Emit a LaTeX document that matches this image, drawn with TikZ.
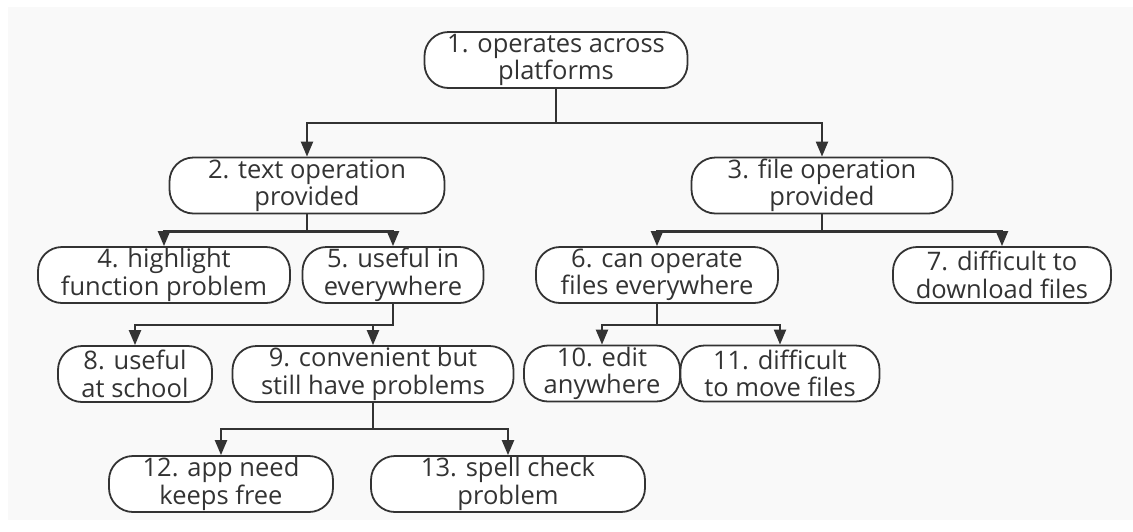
\documentclass[tikz,border=0pt]{standalone}
\usepackage{fontspec}
\setmainfont{Open Sans}
\usetikzlibrary{arrows.meta,positioning}
\definecolor{tline}{RGB}{51,51,51}
\definecolor{tback}{RGB}{249,249,249}
\tikzset{
  box/.style={rectangle,rounded corners=24pt,draw=tline,line width=1.8pt,fill=white,
              align=center,font=\fontsize{25.5}{27.5}\selectfont,text=tline,
              minimum height=56pt,inner sep=1pt},
  link/.style={-{Triangle[length=15pt,width=12pt]},line width=2.2pt,tline},
}

\begin{document}
\begin{tikzpicture}[x=1pt,y=-1pt]
  \useasboundingbox (0,0) rectangle (1133,531);
  \fill[tback] (8,7) rectangle (1133,520);
  % top
  \node[box,minimum width=263pt] (across) at (556,60) {1. operates across\\platforms};
  % second level
  \node[box,minimum width=275pt] (text) at (307,185.5) {2. text operation\\provided};
  \node[box,minimum width=261pt] (file) at (822,185.5) {3. file operation\\provided};
  \draw[link] (across.south) -- ++(0,34) -| (text.north);
  \draw[link] (across.south) -- ++(0,34) -| (file.north);
  % under text operation
  \node[box,minimum width=252pt] (highlight) at (164,275) {4. highlight\\function problem};
  \node[box,minimum width=181pt] (useful) at (393,275) {5. useful in\\everywhere};
  \draw[link] (text.south) -- ++(0,17) -| (highlight.north);
  \draw[link] (text.south) -- ++(0,17) -| (useful.north);
  % under file operation
  \node[box,minimum width=242pt] (operate) at (657,275) {6. can operate\\files everywhere};
  \node[box,minimum width=218pt] (download) at (1002,275) {7. difficult to\\download files};
  \draw[link] (file.south) -- ++(0,17) -| (operate.north);
  \draw[link] (file.south) -- ++(0,17) -| (download.north);
  % under useful in everywhere
  \node[box,minimum width=154pt] (school) at (135,374) {8. useful\\at school};
  \node[box,minimum width=281pt] (convenient) at (373,374) {9. convenient but\\still have problems};
  \draw[link] (useful.south) -- ++(0,21) -| (school.north);
  \draw[link] (useful.south) -- ++(0,21) -| (convenient.north);
  % under can operate files
  \node[box,minimum width=156pt] (edit) at (602,373.5) {10. edit\\anywhere};
  \node[box,minimum width=199pt] (move) at (780,373.5) {11. difficult\\to move files};
  \draw[link] (operate.south) -- ++(0,21) -| (edit.north);
  \draw[link] (operate.south) -- ++(0,21) -| (move.north);
  % under convenient
  \node[box,minimum width=224pt] (free) at (221,484) {12. app need\\keeps free};
  \node[box,minimum width=274pt] (spell) at (508,484) {13. spell check\\problem};
  \draw[link] (convenient.south) -- ++(0,26) -| (free.north);
  \draw[link] (convenient.south) -- ++(0,26) -| (spell.north);
\end{tikzpicture}
\end{document}
